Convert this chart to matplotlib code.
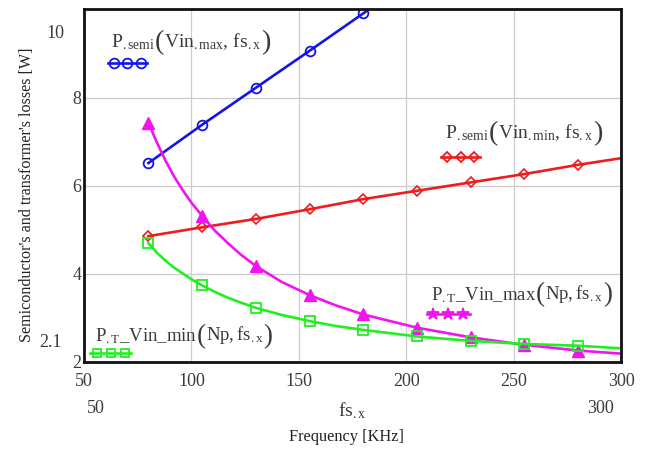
import matplotlib
matplotlib.use("Agg")
import matplotlib.pyplot as plt

plt.rcParams["font.family"] = ["Liberation Serif", "DejaVu Serif"]
plt.rcParams["mathtext.fontset"] = "custom"
plt.rcParams["mathtext.rm"] = "Liberation Serif"
plt.rcParams["mathtext.it"] = "Liberation Serif:italic"

# switching frequency points where markers are drawn (kHz)
fs_marks = [80, 105, 130, 155, 180, 205, 230, 255, 280]

# semiconductor losses at Vin max (only up to 180 kHz stays on the chart)
fs_semi_max = [80, 105, 130, 155, 180, 200]
p_semi_max = [6.52, 7.39, 8.23, 9.07, 9.92, 10.60]

# semiconductor losses at Vin min
fs_semi_min = [80, 105, 130, 155, 180, 205, 230, 255, 280, 300]
p_semi_min = [4.86, 5.06, 5.25, 5.47, 5.70, 5.89, 6.08, 6.27, 6.48, 6.63]

# transformer losses at Vin max
fs_t_max = [80, 84, 88, 92, 96, 100, 105, 111, 117, 123, 130, 142, 155,
            167, 180, 205, 230, 255, 280, 300]
p_t_max = [7.43, 6.98, 6.57, 6.21, 5.90, 5.62, 5.32, 4.98, 4.70, 4.44, 4.18,
           3.82, 3.52, 3.29, 3.08, 2.78, 2.56, 2.39, 2.26, 2.19]

# transformer losses at Vin min
fs_t_min = [80, 84, 88, 92, 96, 100, 105, 111, 117, 123, 130, 142, 155,
            167, 180, 205, 230, 255, 280, 300]
p_t_min = [4.70, 4.48, 4.30, 4.14, 4.01, 3.88, 3.74, 3.59, 3.46, 3.35, 3.23,
           3.07, 2.93, 2.82, 2.73, 2.58, 2.48, 2.41, 2.37, 2.31]

x_ticks = [50, 100, 150, 200, 250, 300]
y_ticks = [2, 4, 6, 8]

BLUE = "#1414e6"
RED = "#ee1c1c"
MAGENTA = "#f014f0"
GREEN = "#22ee22"
TEXT = "#3a3a3a"


def marks_of(xs, ys):
    mx, my = [], []
    for x, y in zip(xs, ys):
        if x in fs_marks:
            mx.append(x)
            my.append(y)
    return mx, my


fig = plt.figure(figsize=(6.51, 4.50), dpi=100)
ax = fig.add_axes([84 / 651, 88 / 450, 537 / 651, 353 / 450])
ax.set_xlim(50, 300)
ax.set_ylim(2, 10.02)

lw = 1.9
ax.plot(fs_semi_max, p_semi_max, color=BLUE, lw=lw)
ax.plot(*marks_of(fs_semi_max, p_semi_max), ls="none", marker="o", ms=7,
        mfc="none", mec=BLUE, mew=1.3)

ax.plot(fs_semi_min, p_semi_min, color=RED, lw=lw)
ax.plot(*marks_of(fs_semi_min, p_semi_min), ls="none", marker="D", ms=5,
        mfc="none", mec=RED, mew=1.2)

ax.plot(fs_t_max, p_t_max, color=MAGENTA, lw=lw)
ax.plot(*marks_of(fs_t_max, p_t_max), ls="none", marker="^", ms=8,
        mfc=MAGENTA, mec=MAGENTA)

ax.plot(fs_t_min, p_t_min, color=GREEN, lw=lw)
ax.plot(*marks_of(fs_t_min, p_t_min), ls="none", marker="s", ms=7,
        mfc="none", mec=GREEN, mew=1.3)

ax.set_xticks(x_ticks)
ax.set_xticklabels([str(v) for v in x_ticks])
ax.set_yticks(y_ticks)
ax.set_yticklabels([str(v) for v in y_ticks])
ax.tick_params(length=0, labelsize=13, colors=TEXT)
ax.tick_params(axis="x", pad=8)
ax.tick_params(axis="y", pad=2)
ax.grid(True, color="#cccccc", lw=0.9)
for s in ax.spines.values():
    s.set_linewidth(2)
    s.set_color("#111111")

# extra axis annotations in Mathcad style
txt = dict(transform=ax.transAxes, fontsize=13, color=TEXT)
ax.text(-0.054, 0.932, "10", ha="center", va="center", **txt)
ax.text(-0.062, 0.054, "2.1", ha="center", va="center", **txt)
ax.text(0.022, -0.133, "50", ha="center", va="center", **txt)
ax.text(0.961, -0.133, "300", ha="center", va="center", **txt)
ax.text(0.500, -0.137, r"$\mathrm{fs}_{\mathrm{.x}}$", ha="center", va="center",
        transform=ax.transAxes, fontsize=14, color=TEXT)
ax.text(0.488, -0.213, "Frequency [KHz]", ha="center", va="center",
        transform=ax.transAxes, fontsize=11.8, color="#222222")
fig.text(27 / 651, 1 - 195 / 450, "Semiconductor's and transformer's losses [W]",
         rotation=90, ha="center", va="center", fontsize=11.6, color="#222222")


def mathcad_label(x, y, head, args, fs=14):
    # head, then a tall "(" args ")" chained right after it
    t1 = ax.text(x, y, head, transform=ax.transAxes, ha="left", va="center",
                 fontsize=fs, color=TEXT)
    t2 = ax.annotate("(", xy=(1, 0.5), xycoords=t1, ha="left", va="center",
                     fontsize=fs * 1.45, color=TEXT)
    t3 = ax.annotate(args, xy=(1, 0), xycoords=(t2, t1), ha="left", va="bottom",
                     fontsize=fs, color=TEXT)
    ax.annotate(")", xy=(1, 0.5), xycoords=(t3, t2), ha="left", va="center",
                fontsize=fs * 1.45, color=TEXT)


def legend_sample(xs, ys, color, marker, ms, filled):
    ax.plot([xs[0] - 0.012, xs[-1] + 0.012], [ys, ys], color=color, lw=lw,
            transform=ax.transAxes, clip_on=False)
    ax.plot(xs, [ys] * len(xs), ls="none", marker=marker, ms=ms,
            mfc=color if filled else "none", mec=color, mew=1.3,
            transform=ax.transAxes, clip_on=False)


mathcad_label(0.050, 0.905, r"$\mathrm{P}_{\mathrm{.semi}}$",
              r"$\mathrm{Vin}_{\mathrm{.max}},\,\mathrm{fs}_{\mathrm{.x}}$")
legend_sample([0.056, 0.080, 0.106], 0.847, BLUE, "o", 7, False)

mathcad_label(0.672, 0.648, r"$\mathrm{P}_{\mathrm{.semi}}$",
              r"$\mathrm{Vin}_{\mathrm{.min}},\,\mathrm{fs}_{\mathrm{.x}}$")
legend_sample([0.676, 0.702, 0.726], 0.581, RED, "D", 5, False)

mathcad_label(0.646, 0.190, r"$\mathrm{P}_{\mathrm{.T}}\mathrm{\_Vin\_max}$",
              r"$\mathrm{Np},\mathrm{fs}_{\mathrm{.x}}$", fs=13.5)
legend_sample([0.650, 0.678, 0.706], 0.136, MAGENTA, "*", 9, True)

mathcad_label(0.020, 0.073, r"$\mathrm{P}_{\mathrm{.T}}\mathrm{\_Vin\_min}$",
              r"$\mathrm{Np},\mathrm{fs}_{\mathrm{.x}}$", fs=13.5)
legend_sample([0.024, 0.050, 0.076], 0.025, GREEN, "s", 6, False)

fig.savefig("out.png", dpi=100)
